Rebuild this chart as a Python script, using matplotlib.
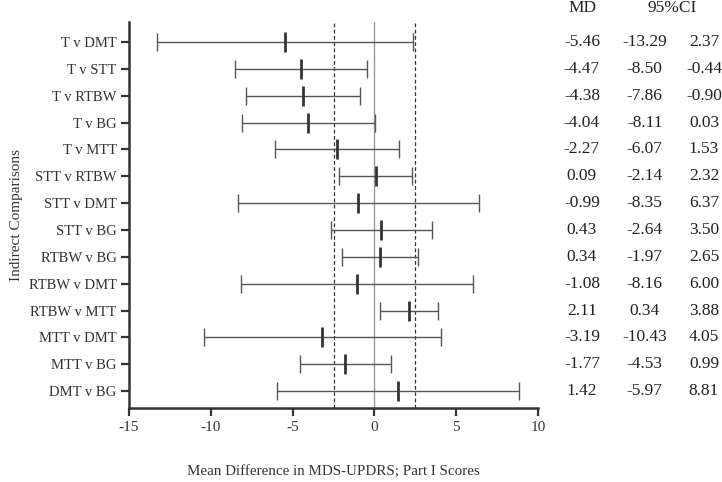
import matplotlib
matplotlib.use('Agg')
import matplotlib.pyplot as plt
from matplotlib.transforms import blended_transform_factory

# forest plot of indirect comparisons, MDS-UPDRS Part I
comparisons = ['T v DMT', 'T v STT', 'T v RTBW', 'T v BG', 'T v MTT',
               'STT v RTBW', 'STT v DMT', 'STT v BG', 'RTBW v BG', 'RTBW v DMT',
               'RTBW v MTT', 'MTT v DMT', 'MTT v BG', 'DMT v BG']
md = [-5.46, -4.47, -4.38, -4.04, -2.27, 0.09, -0.99, 0.43, 0.34, -1.08,
      2.11, -3.19, -1.77, 1.42]
ci_lo = [-13.29, -8.50, -7.86, -8.11, -6.07, -2.14, -8.35, -2.64, -1.97, -8.16,
         0.34, -10.43, -4.53, -5.97]
ci_hi = [2.37, -0.44, -0.90, 0.03, 1.53, 2.32, 6.37, 3.50, 2.65, 6.00,
         3.88, 4.05, 0.99, 8.81]
mcid = 2.5
x_ticks = [-15, -10, -5, 0, 5, 10]

plt.rcParams['font.family'] = ['Liberation Serif', 'DejaVu Serif']

fig = plt.figure(figsize=(7.22, 4.82), dpi=100)
ax = fig.add_axes([0.1787, 0.1535, 0.5665, 0.8009])

ypos = list(range(len(comparisons)))
xerr = [[m - lo for m, lo in zip(md, ci_lo)], [hi - m for m, hi in zip(md, ci_hi)]]
ax.errorbar(md, ypos, xerr=xerr, fmt='none', ecolor='#555555', elinewidth=1.0,
            capsize=6.5, capthick=1.0, zorder=3)
ax.plot(md, ypos, linestyle='none', marker='|', markersize=14, mew=2.0,
        color='#333333', zorder=4)

ax.axvline(0, color='#999999', lw=1.0, zorder=1)
ax.axvline(-mcid, color='#333333', lw=0.9, ls=(0, (3, 2)), zorder=1)
ax.axvline(mcid, color='#333333', lw=0.9, ls=(0, (3, 2)), zorder=1)

ax.set_xlim(-15, 10)
ax.set_ylim(13.63, -0.75)
ax.set_xticks(x_ticks)
ax.set_xticklabels([str(t) for t in x_ticks], fontsize=11, color='#333333')
ax.set_yticks(ypos)
ax.set_yticklabels(comparisons, fontsize=10.5, color='#333333')
ax.tick_params(axis='both', direction='out', length=6, width=1.6, color='#333333')
ax.tick_params(axis='x', pad=3)
ax.tick_params(axis='y', pad=3)
for s in ('top', 'right'):
    ax.spines[s].set_visible(False)
for s in ('left', 'bottom'):
    ax.spines[s].set_linewidth(1.8)
    ax.spines[s].set_color('#333333')

ax.set_ylabel('Indirect Comparisons', fontsize=11, color='#333333')
ax.yaxis.set_label_coords(-0.26, 0.5)
fig.text(0.462, 0.0228, 'Mean Difference in MDS-UPDRS; Part I Scores',
         ha='center', va='center', fontsize=10.8, color='#333333')

# table on the right
tr = blended_transform_factory(fig.transFigure, ax.transData)
fig.text(0.807, 0.983, 'MD', ha='center', va='center', fontsize=12.5, color='#222222')
fig.text(0.931, 0.983, '95%CI', ha='center', va='center', fontsize=12.5, color='#222222')
for y, m, lo, hi in zip(ypos, md, ci_lo, ci_hi):
    ax.text(0.806, y, f'{m:.2f}', transform=tr, ha='center', va='center',
            fontsize=12.5, color='#222222')
    ax.text(0.893, y, f'{lo:.2f}', transform=tr, ha='center', va='center',
            fontsize=12.5, color='#222222')
    ax.text(0.975, y, f'{hi:.2f}', transform=tr, ha='center', va='center',
            fontsize=12.5, color='#222222')

fig.savefig('out.png', dpi=100)
